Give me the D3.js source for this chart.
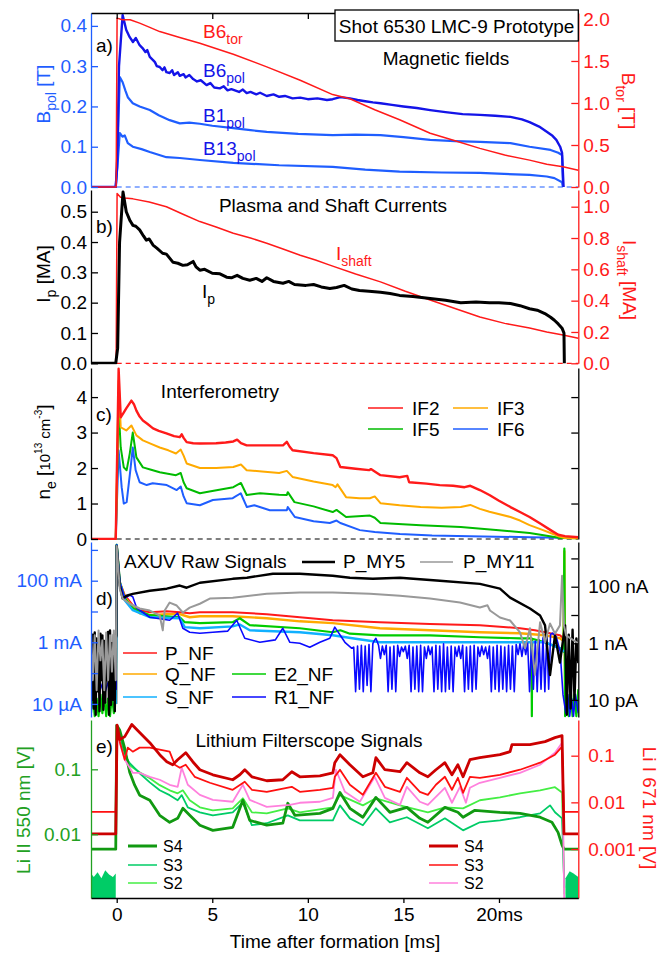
<!DOCTYPE html>
<html><head><meta charset="utf-8">
<script src="https://cdn.jsdelivr.net/npm/d3@7"></script>
<style>
html,body{margin:0;padding:0;background:#fff;}
svg{display:block;font-family:"Liberation Sans",Arial,Helvetica,sans-serif;font-size:19px;}
</style></head><body>
<svg id="c" width="671" height="954"></svg>
<script>
// ---------------- DATA ----------------
const xTicks = [0, 5, 10, 15, 20];
const xTickLabels = ["0", "5", "10", "15", "20ms"];

// Panel a: magnetic fields [T]
const bTor = [[-1.345,0],[-0.03,0],[0.02,2.01],[0.3,1.99],[0.7,1.99],[1.2,1.95],[1.73,1.9],[2.25,1.85],[3.3,1.78],[4.35,1.71],[6.1,1.58],[7.85,1.43],[9.6,1.27],[11.3,1.1],[12.2,1.05],[13.5,0.92],[14.8,0.8],[16.4,0.64],[17.7,0.55],[19.0,0.46],[20.3,0.38],[21.6,0.32],[22.5,0.27],[23.35,0.24],[24.15,0.2]];
const bPol6 = [[-1.345,0],[-0.05,0],[0.02,0.05],[0.12,0.3],[0.31,0.427],[0.5,0.39],[0.68,0.372],[0.85,0.36],[1.0,0.37],[1.2,0.352],[1.35,0.345],[1.5,0.335],[1.6,0.34],[1.73,0.323],[1.9,0.315],[2.0,0.31],[2.1,0.3],[2.25,0.298],[2.4,0.29],[2.5,0.297],[2.6,0.285],[2.77,0.283],[2.9,0.29],[3.0,0.278],[3.2,0.285],[3.3,0.276],[3.5,0.28],[3.6,0.272],[3.8,0.278],[4.0,0.268],[4.2,0.262],[4.4,0.265],[4.7,0.253],[4.9,0.258],[5.1,0.247],[5.4,0.245],[5.6,0.25],[5.8,0.24],[6.0,0.243],[6.4,0.236],[6.6,0.242],[6.8,0.233],[7.0,0.236],[7.3,0.23],[7.5,0.234],[7.85,0.226],[8.2,0.23],[8.5,0.224],[8.8,0.226],[9.2,0.22],[9.6,0.222],[10.0,0.218],[10.5,0.22],[11.0,0.216],[11.3,0.218],[11.7,0.223],[12.2,0.22],[12.6,0.216],[13.0,0.213],[13.4,0.21],[13.8,0.208],[14.4,0.204],[15.0,0.2],[15.7,0.196],[16.4,0.191],[17.2,0.186],[18.1,0.181],[19.0,0.179],[19.8,0.177],[20.6,0.174],[21.2,0.168],[21.6,0.161],[22.1,0.15],[22.5,0.137],[22.8,0.127],[23.0,0.117],[23.2,0.1],[23.3,0.085],[23.35,0.03],[23.38,0]];
const bPol1 = [[-1.345,0],[-0.05,0],[0.05,0.1],[0.16,0.273],[0.31,0.26],[0.45,0.24],[0.58,0.223],[0.84,0.208],[1.2,0.2],[1.73,0.191],[2.2,0.178],[2.77,0.166],[3.3,0.158],[3.8,0.16],[4.35,0.157],[5.0,0.152],[6.1,0.146],[7.0,0.141],[7.85,0.137],[9.5,0.132],[11.3,0.129],[12.5,0.13],[13.8,0.129],[15.0,0.124],[16.4,0.117],[17.7,0.114],[19.0,0.112],[20.6,0.109],[21.6,0.1],[22.7,0.092],[23.1,0.085],[23.3,0.079],[23.35,0]];
const bPol13 = [[-1.345,0],[-0.05,0],[0.05,0.06],[0.16,0.134],[0.3,0.125],[0.42,0.128],[0.58,0.109],[0.84,0.1],[1.3,0.094],[1.73,0.087],[2.6,0.074],[3.3,0.072],[4.35,0.067],[6.1,0.06],[8.5,0.054],[11.3,0.05],[13.0,0.043],[14.8,0.038],[17.0,0.036],[19.0,0.035],[21.6,0.03],[22.5,0.026],[22.9,0.022],[23.3,0.012],[23.35,0]];

// Panel b: currents [MA]
const ip = [[-1.345,0],[-0.05,0],[0.05,0.05],[0.15,0.4],[0.33,0.565],[0.5,0.5],[0.7,0.47],[0.85,0.455],[1.0,0.452],[1.2,0.44],[1.4,0.42],[1.55,0.406],[1.7,0.41],[1.9,0.39],[2.1,0.38],[2.4,0.363],[2.6,0.36],[2.95,0.333],[3.2,0.33],[3.46,0.323],[3.7,0.325],[4.0,0.336],[4.15,0.318],[4.35,0.307],[4.6,0.31],[5.0,0.297],[5.4,0.295],[5.75,0.284],[6.0,0.282],[6.3,0.29],[6.6,0.28],[6.96,0.274],[7.3,0.28],[7.6,0.27],[7.85,0.282],[8.2,0.27],[8.7,0.264],[9.0,0.27],[9.3,0.26],[9.9,0.257],[10.3,0.26],[10.7,0.252],[11.15,0.247],[11.5,0.25],[11.9,0.257],[12.3,0.245],[12.7,0.24],[13.2,0.238],[13.8,0.234],[14.3,0.23],[14.8,0.224],[15.5,0.22],[16.4,0.214],[17.2,0.208],[18.0,0.2],[18.8,0.202],[19.5,0.2],[20.0,0.2],[20.6,0.197],[21.1,0.19],[21.6,0.18],[22.0,0.175],[22.4,0.164],[22.7,0.152],[22.9,0.142],[23.1,0.13],[23.3,0.116],[23.4,0.1],[23.42,0]];
const iShaft = [[-1.345,0],[-0.03,0],[0.02,1.085],[0.2,1.06],[0.42,1.055],[0.85,1.05],[1.7,1.03],[2.6,1.0],[3.5,0.95],[4.35,0.905],[5.2,0.87],[6.1,0.83],[7.0,0.8],[7.85,0.767],[8.7,0.73],[9.6,0.69],[10.4,0.66],[11.15,0.627],[12.5,0.57],[13.8,0.52],[15.1,0.46],[16.4,0.404],[17.7,0.35],[19.0,0.296],[20.3,0.255],[21.6,0.225],[22.5,0.2],[23.35,0.18],[24.15,0.16]];

// Panel c: interferometry [1e13 cm^-3]
const if2 = [[-1.345,0],[-0.05,0],[0.1,4.8],[0.21,3.43],[0.35,3.55],[0.5,3.68],[0.77,3.9],[0.9,3.8],[1.03,3.62],[1.2,3.45],[1.37,3.34],[1.6,3.25],[1.9,3.12],[2.2,3.05],[2.6,2.98],[3.0,2.9],[3.3,2.87],[3.4,2.95],[3.5,2.85],[3.66,2.73],[4.0,2.7],[4.35,2.69],[5.2,2.7],[5.7,2.72],[6.1,2.75],[6.3,2.8],[6.5,2.7],[6.8,2.64],[7.85,2.64],[8.7,2.64],[8.9,2.74],[9.05,2.6],[9.2,2.5],[10.3,2.42],[11.3,2.36],[11.5,2.28],[11.7,2.03],[12.5,1.98],[13.2,1.94],[13.3,1.97],[13.8,1.8],[14.8,1.74],[15.2,1.78],[15.3,1.6],[16.2,1.56],[16.9,1.52],[17.6,1.5],[18.2,1.46],[18.5,1.5],[19.0,1.38],[19.5,1.24],[20.0,1.08],[20.6,0.9],[21.1,0.76],[21.6,0.62],[22.2,0.42],[22.7,0.25],[23.1,0.12],[23.45,0.08],[24.15,0.05]];
const if3 = [[-1.345,0],[-0.05,0],[0.1,4.47],[0.21,3.15],[0.5,3.06],[0.77,3.2],[1.03,2.92],[1.37,2.78],[1.8,2.68],[2.25,2.58],[2.7,2.5],[3.1,2.41],[3.35,2.52],[3.5,2.35],[3.66,2.13],[4.35,2.0],[5.2,2.0],[6.1,2.03],[6.5,2.1],[6.8,1.94],[7.6,1.9],[8.5,1.86],[8.9,1.92],[9.2,1.75],[10.3,1.62],[11.3,1.52],[11.45,1.46],[11.55,1.54],[12.0,1.18],[12.7,1.15],[13.25,1.15],[13.5,1.2],[13.8,1.01],[14.8,0.95],[15.9,0.9],[17.0,0.88],[18.0,0.9],[18.5,0.96],[19.0,0.85],[19.5,0.77],[20.6,0.62],[21.1,0.52],[21.6,0.39],[22.2,0.27],[22.7,0.17],[23.1,0.08],[23.46,0.03],[24.15,0.02]];
const if5 = [[-1.345,0],[-0.05,0],[0.1,3.7],[0.21,2.58],[0.37,2.02],[0.52,1.94],[0.68,2.4],[0.84,3.0],[0.95,2.6],[1.03,2.3],[1.37,2.02],[1.8,1.95],[2.25,1.88],[3.1,1.8],[3.35,1.86],[3.5,1.6],[3.66,1.43],[4.35,1.29],[5.0,1.35],[6.1,1.46],[6.5,1.58],[6.8,1.24],[7.5,1.29],[8.5,1.25],[8.9,1.24],[8.95,1.32],[9.3,1.04],[10.3,0.92],[11.3,0.76],[11.5,0.82],[12.0,0.62],[13.25,0.66],[13.5,0.6],[13.8,0.45],[15.9,0.39],[18.0,0.34],[20.0,0.25],[21.6,0.17],[22.5,0.09],[23.2,0.03],[24.15,0.02]];
const if6 = [[-1.345,0],[-0.05,0],[0.1,2.5],[0.26,1.46],[0.37,1.0],[0.52,1.04],[0.73,2.02],[0.84,2.58],[0.99,1.94],[1.2,1.6],[1.57,1.52],[1.88,1.57],[2.62,1.52],[3.14,1.38],[3.35,1.48],[3.5,1.2],[3.66,1.01],[4.35,0.95],[5.03,1.1],[6.07,1.15],[6.49,1.29],[6.81,0.9],[7.2,0.95],[8.01,0.81],[8.9,0.81],[8.95,0.9],[9.32,0.62],[10.3,0.5],[11.15,0.45],[11.5,0.52],[11.7,0.45],[12.72,0.25],[13.5,0.2],[14.82,0.14],[16.5,0.1],[18.48,0.08],[21.6,0.05],[24.15,0.03]];

// Panel d: AXUV raw signals, NF in mA (left), MY in nA (right)
const pNF = [[-0.03,0.01],[0.0,1445],[0.16,90],[0.42,34],[0.84,16],[1.2,11],[1.73,9.5],[2.62,10.2],[3.3,9.5],[3.82,8.8],[4.35,9.5],[6.07,9.5],[7.85,8.2],[9.58,6.5],[11.3,5.2],[13.77,4.5],[16.39,3.9],[19.0,3.6],[21.1,2.86],[21.88,2.46],[22.41,2.12],[23.19,1.69],[23.4,1.3]];
const qNF = [[-0.03,0.01],[0.0,1445],[0.16,90],[0.42,29],[0.84,13.8],[1.2,8.8],[1.73,7.6],[2.62,8.2],[3.3,8.2],[3.82,6.5],[4.35,7.0],[6.07,7.0],[7.85,6.05],[9.58,4.8],[11.3,4.2],[13.77,2.86],[16.39,2.46],[19.0,2.12],[21.1,1.96],[22.41,1.69],[23.19,1.35],[23.38,1.1],[23.42,900],[23.46,0.01]];
const e2NF = [[-1.345,0.005],[-1.25,0.02],[-1.15,0.004],[-1.05,0.015],[-0.95,0.004],[-0.85,0.02],[-0.75,0.005],[-0.65,0.02],[-0.55,0.004],[-0.45,0.015],[-0.35,0.004],[-0.25,0.02],[-0.15,0.005],[-0.05,0.015],[0.0,1445],[0.16,90],[0.42,27],[0.84,12.8],[1.73,7.6],[3.3,6.5],[3.56,4.5],[4.35,4.2],[6.07,4.5],[6.44,6.05],[6.96,3.6],[9.58,2.86],[11.3,2.12],[11.7,2.46],[12.2,1.9],[13.77,1.69],[16.39,1.69],[19.0,1.46],[21.1,1.35],[21.7,1.35],[21.72,0.004],[21.74,1.3],[22.41,1.0],[23.19,0.64],[23.38,0.5],[23.42,1100],[23.46,0.004],[23.55,0.02],[23.65,0.004],[23.75,0.03],[23.85,0.004],[23.95,0.02],[24.05,0.004],[24.15,0.03]];
const sNF = [[-0.03,0.01],[0.0,1445],[0.16,90],[0.42,23],[0.84,11],[1.73,6.5],[3.3,6.05],[3.56,3.1],[4.35,2.86],[6.07,3.3],[6.44,3.8],[6.96,2.46],[9.58,2.12],[11.3,1.69],[12.5,1.3],[13.77,1.0],[16.39,1.0],[19.0,1.0],[22.41,1.0],[23.19,0.64],[23.4,0.5]];
const r1NF = [[-1.345,0.04],[-1.2,0.025],[-1.05,0.05],[-0.9,0.025],[-0.75,0.045],[-0.6,0.025],[-0.45,0.05],[-0.3,0.025],[-0.15,0.04],[-0.03,0.03],[0.0,1445],[0.16,90],[0.42,27],[0.68,34],[0.84,30],[1.05,12.8],[1.73,6.5],[2.77,5.2],[3.19,8.8],[3.46,2.86],[3.82,2.12],[4.35,1.96],[5.03,2.12],[5.8,2.3],[6.28,5.2],[6.7,1.35],[7.49,1.0],[8.3,1.2],[8.69,2.86],[9.06,1.0],[9.58,0.93],[10.1,0.69],[10.63,1.0],[11.15,1.35],[11.41,3.1],[11.94,1.0],[12.3,0.64],
[12.4,0.7],[12.5,0.025],[12.6,0.75],[12.7,0.03],[12.8,0.8],[12.9,0.025],[13.0,0.75],[13.1,0.04],[13.2,0.85],[13.3,0.025],[13.4,0.9],[13.5,1.2],[13.56,1.35],[13.7,0.8],[13.8,0.3],[13.9,0.75],[14.0,0.4],[14.1,0.8],[14.2,0.025],[14.3,0.7],[14.4,0.03],[14.5,0.75],[14.6,0.025],[14.7,0.8],[14.8,0.35],[14.9,0.7],[15.0,0.5],[15.1,0.75],[15.2,0.3],[15.3,0.8],[15.4,0.025],[15.5,0.7],[15.6,0.03],[15.7,0.75],[15.8,0.025],[15.9,0.8],[16.0,0.025],[16.1,0.7],[16.2,0.3],[16.3,0.75],[16.4,0.4],[16.5,0.7],[16.6,0.025],[16.7,0.8],[16.8,0.03],[16.9,0.75],[17.0,0.025],[17.1,0.9],[17.2,0.025],[17.3,0.7],[17.4,0.03],[17.5,0.75],[17.6,0.025],[17.7,0.7],[17.8,0.35],[17.9,0.75],[18.0,0.3],[18.1,0.8],[18.2,0.025],[18.3,0.7],[18.4,0.03],[18.5,0.75],[18.6,0.025],[18.7,0.8],[18.8,0.03],[18.9,0.7],[19.0,0.35],[19.1,0.75],[19.2,0.4],[19.3,0.7],[19.4,0.3],[19.5,0.75],[19.6,0.025],[19.7,0.7],[19.8,0.03],[19.9,0.8],[20.0,0.025],[20.1,0.75],[20.2,0.03],[20.3,0.7],[20.4,0.025],[20.5,0.8],[20.6,0.03],[20.7,0.75],[20.8,0.025],[20.9,0.85],[21.0,0.4],[21.1,0.9],[21.2,0.35],[21.3,0.9],[21.4,0.4],[21.5,0.95],[21.6,0.025],[21.7,1.0],[21.8,0.03],[21.9,1.1],[22.0,0.025],[22.1,1.2],[22.2,0.03],[22.3,1.4],[22.4,0.025],[22.5,1.6],[22.6,0.03],[22.7,1.8],[22.8,2.0],
[23.0,1.5],[23.2,0.5],[23.35,0.02],[23.5,0.005],[23.6,0.02],[23.7,0.004],[23.8,0.015],[23.9,0.004],[24.0,0.02],[24.15,0.005]];
const pMY5 = [[-1.345,1.27],[-1.3,0.01],[-1.25,2.0],[-1.2,0.005],[-1.15,2.43],[-1.1,0.003],[-1.05,1.5],[-1.0,0.02],[-0.95,0.85],[-0.9,0.004],[-0.85,2.2],[-0.8,0.05],[-0.75,1.91],[-0.7,0.0045],[-0.65,1.2],[-0.6,0.008],[-0.55,0.57],[-0.5,0.05],[-0.45,2.5],[-0.4,0.003],[-0.35,2.86],[-0.3,0.0067],[-0.25,1.0],[-0.2,0.01],[-0.15,2.0],[-0.1,0.004],[-0.05,1.5],[-0.02,1.9],[0.0,2750],[0.16,110],[0.31,38],[0.52,48],[0.84,56],[1.73,72],[2.62,85],[3.3,110],[3.66,92],[4.35,138],[6.07,190],[6.81,208],[8.17,288],[9.58,288],[11.3,245],[12.2,208],[13.4,190],[14.82,208],[16.91,162],[19.0,126],[20.05,85],[20.58,41],[21.62,17],[22.15,9.6],[22.41,4.3],[22.51,0.85],[22.67,0.076],[22.93,1.9],[23.19,0.21],[23.46,4.3],[23.55,0.003],[23.65,2.0],[23.75,0.005],[23.85,3.0],[23.95,0.01],[24.05,1.5],[24.15,0.2]];
const pMY11 = [[-1.345,2.43],[-1.25,0.05],[-1.15,1.91],[-1.05,0.022],[-0.95,2.86],[-0.85,0.25],[-0.75,1.27],[-0.65,0.022],[-0.55,2.43],[-0.45,0.05],[-0.35,1.91],[-0.25,0.1],[-0.15,2.86],[-0.05,0.05],[0.0,2750],[0.16,85],[0.31,38],[0.68,25],[1.2,17],[1.73,14.4],[2.25,9.6],[2.41,2.86],[2.51,14.4],[2.77,27.5],[3.14,21.6],[3.46,12.3],[3.82,18.3],[4.35,25],[4.87,38],[6.07,41],[7.85,56],[9.58,62],[11.3,62],[13.25,56],[14.82,48],[16.39,38],[17.96,27.5],[19.0,18.3],[19.4,22],[19.53,14.4],[20.05,8.2],[20.58,6.4],[21.1,2.43],[21.36,0.67],[21.62,3.4],[21.88,0.076],[22.15,5.5],[22.41,1.08],[22.67,5.0],[22.93,2.2],[23.19,4.3],[23.3,245],[23.4,4.3],[23.51,1.91],[24.15,1.0]];

// Panel e: Li filterscopes [V]; green = Li II 550 nm (left), red = Li I 671 nm (right)
const g4 = [[-1.345,0.0059],[-0.05,0.0059],[0.0,0.475],[0.16,0.398],[0.42,0.21],[0.68,0.09],[0.94,0.057],[1.2,0.04],[1.73,0.0334],[2.25,0.0196],[2.77,0.0153],[3.19,0.0176],[3.46,0.0251],[3.82,0.0196],[4.35,0.0138],[5.03,0.0115],[6.07,0.0128],[6.6,0.0334],[6.96,0.0164],[7.85,0.0138],[8.69,0.0148],[8.95,0.03],[9.32,0.0196],[10.63,0.021],[11.31,0.0251],[11.68,0.044],[12.2,0.0251],[12.88,0.0183],[13.56,0.037],[14.29,0.0218],[15.18,0.026],[15.86,0.0176],[16.28,0.0153],[17.17,0.026],[17.85,0.0218],[18.12,0.0183],[18.74,0.0234],[20.05,0.0218],[21.1,0.021],[22.15,0.0183],[22.77,0.0153],[23.09,0.0107],[23.3,0.0068],[23.4,0.0059],[24.15,0.0059]];
const g3 = [[0.0,0.475],[0.16,0.3],[0.42,0.164],[0.68,0.124],[1.2,0.087],[1.73,0.063],[2.25,0.0475],[2.77,0.04],[3.19,0.0334],[3.4,0.04],[3.72,0.026],[4.35,0.0218],[5.03,0.0196],[6.07,0.0218],[6.6,0.031],[7.07,0.0138],[7.85,0.0148],[8.95,0.0196],[9.58,0.0164],[11.31,0.0164],[11.68,0.0279],[12.2,0.0176],[12.88,0.0138],[13.56,0.0251],[14.29,0.0153],[15.18,0.0183],[16.28,0.0124],[17.17,0.0176],[18.12,0.0115],[19.0,0.0153],[20.05,0.0164],[21.1,0.0183],[22.15,0.021],[22.67,0.0279],[22.93,0.0218],[23.3,0.0176],[23.42,0.0015]];
const g3Pre = [[-1.345,0.0025],[-1.2,0.0022],[-1.0,0.0026],[-0.8,0.0021],[-0.6,0.0028],[-0.4,0.0024],[-0.2,0.0022],[-0.05,0.0025]];
const g3Post = [[23.48,0.0021],[23.7,0.0027],[23.9,0.0025],[24.15,0.0022]];
const g2 = [[0.0,0.475],[0.16,0.333],[0.42,0.183],[0.68,0.115],[0.84,0.107],[1.2,0.09],[1.73,0.073],[2.25,0.057],[2.77,0.0475],[3.19,0.0427],[3.46,0.0475],[3.82,0.0334],[4.35,0.026],[5.03,0.0234],[6.07,0.0251],[6.6,0.0358],[7.07,0.0218],[7.85,0.021],[8.95,0.0251],[9.58,0.0218],[11.31,0.026],[11.68,0.04],[12.88,0.0279],[13.56,0.0358],[14.82,0.0279],[16.28,0.0218],[17.17,0.026],[18.12,0.0251],[19.0,0.0334],[20.05,0.037],[21.1,0.0427],[22.15,0.0475],[22.93,0.053],[23.3,0.044],[23.42,0.0012]];
const r4 = [[-1.345,0.0021],[-0.05,0.0021],[0.02,0.45],[0.16,0.221],[0.42,0.256],[0.79,0.465],[1.2,0.313],[1.73,0.19],[2.25,0.105],[2.62,0.0743],[2.93,0.064],[3.19,0.082],[3.61,0.116],[3.98,0.0743],[4.35,0.05],[5.03,0.039],[6.07,0.0305],[6.44,0.039],[6.7,0.05],[7.07,0.0353],[7.85,0.029],[8.69,0.0305],[9.16,0.0453],[9.58,0.0353],[10.63,0.0371],[11.31,0.043],[11.41,0.0708],[11.68,0.105],[12.2,0.064],[12.88,0.0353],[13.4,0.043],[13.56,0.0906],[14.03,0.05],[14.82,0.0453],[15.18,0.0708],[15.86,0.043],[16.28,0.0353],[16.7,0.05],[17.17,0.0708],[17.54,0.039],[17.85,0.064],[18.12,0.0353],[18.48,0.082],[19.0,0.0906],[20.05,0.105],[20.58,0.122],[20.68,0.172],[21.62,0.172],[22.41,0.2],[22.93,0.244],[23.3,0.269],[23.4,0.0021],[24.15,0.0021]];
const r3 = [[-1.345,0.00625],[-0.05,0.00625],[0.02,0.4],[0.16,0.2],[0.42,0.082],[0.58,0.149],[0.84,0.122],[1.2,0.149],[1.73,0.149],[2.25,0.135],[2.77,0.122],[3.04,0.064],[3.3,0.0552],[3.61,0.064],[4.08,0.0353],[4.87,0.0263],[6.07,0.0186],[6.7,0.0276],[7.07,0.0186],[7.85,0.0168],[9.16,0.0215],[9.58,0.0168],[10.63,0.0186],[11.31,0.0205],[11.41,0.0353],[11.68,0.05],[12.2,0.0238],[12.88,0.0145],[13.56,0.043],[14.03,0.0215],[14.82,0.0168],[15.18,0.0336],[15.86,0.0168],[16.28,0.0145],[16.7,0.0238],[17.17,0.0353],[17.54,0.0186],[17.85,0.0336],[18.12,0.016],[18.48,0.0353],[19.0,0.0336],[20.05,0.039],[21.1,0.05],[22.15,0.0708],[22.93,0.105],[23.3,0.156],[23.4,0.00625],[24.15,0.00625]];
const r2 = [[0.0,0.465],[0.16,0.19],[0.42,0.082],[0.68,0.0552],[0.84,0.043],[1.2,0.043],[1.73,0.0353],[2.25,0.0305],[2.77,0.0238],[3.19,0.0215],[3.4,0.0552],[3.72,0.0238],[4.35,0.0145],[5.03,0.0113],[6.07,0.0103],[6.6,0.0238],[6.96,0.0113],[7.85,0.008],[9.06,0.0088],[9.58,0.0098],[10.63,0.0103],[11.31,0.0125],[11.47,0.05],[11.94,0.0168],[12.72,0.0103],[13.5,0.0353],[14.03,0.0125],[14.82,0.0088],[15.18,0.0215],[15.86,0.0103],[16.28,0.0088],[17.17,0.0205],[17.54,0.0098],[17.96,0.0215],[18.27,0.0098],[18.48,0.0205],[19.0,0.0263],[20.05,0.0336],[21.1,0.043],[22.15,0.064],[22.93,0.116],[23.3,0.19],[23.42,0.00005]];

// tick values
const aLeftTicks = [0, 0.1, 0.2, 0.3, 0.4];
const aRightTicks = [0, 0.5, 1.0, 1.5, 2.0];
const bLeftTicks = [0, 0.1, 0.2, 0.3, 0.4, 0.5];
const bRightTicks = [0, 0.2, 0.4, 0.6, 0.8, 1.0];
const cTicks = [0, 1, 2, 3, 4];
const dTicks = [1000, 100, 10, 1, 0.1, 0.01];
const dLeftLabels = {"100": "100 mA", "1": "1 mA", "0.01": "10 µA"};
const dRightLabels = {"100": "100 nA", "1": "1 nA", "0.01": "10 pA"};
const eLeftTicks = [0.1, 0.01];
const eRightTicks = [0.1, 0.01, 0.001];

// ---------------- DRAW ----------------
const svg = d3.select('#c');
const L = 91, R = 578.3;
const P = {a:[13,187], b:[190,363.3], c:[368,539], d:[542,717], e:[720,898]};
const x = d3.scaleLinear().domain([-1.345, 24.15]).range([L, R]);
const yaL = d3.scaleLinear().domain([0, 0.432]).range([187, 13]);
const yaR = d3.scaleLinear().domain([0, 2.071]).range([187, 13]);
const ybL = d3.scaleLinear().domain([0, 0.5716]).range([363.3, 190]);
const ybR = d3.scaleLinear().domain([0, 1.1066]).range([363.3, 190]);
const yc = d3.scaleLinear().domain([0, 4.82]).range([539, 368]);
const ydL = d3.scaleLog().domain([0.00376, 1804]).range([717, 542]);
const ydR = d3.scaleLog().domain([0.00249, 3800]).range([717, 542]);
const yeL = d3.scaleLog().domain([0.001047, 0.5735]).range([898, 720]);
const yeR = d3.scaleLog().domain([0.0000891, 0.582]).range([898, 720]);

const BLUE = '#1f5eff', BLUE_D = '#1414e8', RED = '#ff1a1a', ORANGE = '#ffaa00', GREEN = '#00bb00';
const defs = svg.append('defs');
Object.entries(P).forEach(([k, [t, b]]) => {
  defs.append('clipPath').attr('id', 'clip-' + k).append('rect')
    .attr('x', L).attr('y', t - 1).attr('width', R - L).attr('height', b - t + 2);
});

function ln(panel, data, y, color, w, dash) {
  const p = svg.append('g').attr('clip-path', `url(#clip-${panel})`).append('path')
    .datum(data)
    .attr('d', d3.line().x(d => x(d[0])).y(d => y(d[1])))
    .attr('fill', 'none').attr('stroke', color).attr('stroke-width', w)
    .attr('stroke-linejoin', 'round');
  if (dash) p.attr('stroke-dasharray', dash);
}
function area(panel, data, y, base, color) {
  svg.append('g').attr('clip-path', `url(#clip-${panel})`).append('path')
    .datum(data)
    .attr('d', d3.area().x(d => x(d[0])).y0(base).y1(d => y(d[1])))
    .attr('fill', color);
}
function zeroLine(y, color) {
  svg.append('line').attr('x1', x(0)).attr('x2', R).attr('y1', y(0)).attr('y2', y(0))
    .attr('stroke', color).attr('stroke-width', 1.2).attr('stroke-dasharray', '5,4');
}
function yAxis(scale, side, ticks, fmt, color, pad) {
  const ax = (side === 'left' ? d3.axisLeft(scale) : d3.axisRight(scale))
    .tickValues(ticks).tickFormat(fmt).tickSize(-7).tickSizeOuter(0).tickPadding(pad);
  const g = svg.append('g').attr('transform', `translate(${side === 'left' ? L : R},0)`).call(ax);
  g.attr('font-size', null).attr('font-family', null);
  g.selectAll('path,line').attr('stroke', color).attr('stroke-width', 1.3);
  g.selectAll('text').attr('fill', color);
  return g;
}
function rich(x0, y0, parts, o = {}) {
  const size = o.size || 19;
  const t = svg.append('text')
    .attr('transform', `translate(${x0},${y0}) rotate(${o.rotate || 0})`)
    .attr('text-anchor', o.anchor || 'start').attr('fill', o.color || '#000')
    .style('font-size', size + 'px');
  let shift = 0;
  parts.forEach(p => {
    const s = t.append('tspan').text(p.t);
    const target = p.sub ? size * 0.32 : p.sup ? -size * 0.42 : 0;
    if (target - shift !== 0) s.attr('dy', target - shift);
    shift = target;
    const fs = p.size || ((p.sub || p.sup) ? Math.round(size * 0.72) : size);
    s.style('font-size', fs + 'px');
  });
  return t;
}
const fmt1 = d3.format('.1f');

// ---- Panel a
zeroLine(yaL, BLUE);
ln('a', bPol13, yaL, BLUE, 2.2);
ln('a', bPol1, yaL, BLUE, 2.2);
ln('a', bPol6, yaL, BLUE_D, 2.4);
ln('a', bTor, yaR, RED, 1.5);
yAxis(yaL, 'left', aLeftTicks, fmt1, BLUE, 4);
yAxis(yaR, 'right', aRightTicks, fmt1, RED, 5);
svg.append('g').attr('transform', `translate(0,${P.a[0]})`)
  .call(d3.axisTop(x).tickValues(xTicks).tickFormat('').tickSize(-6).tickSizeOuter(0))
  .call(g => g.selectAll('path,line').attr('stroke', '#000').attr('stroke-width', 1.3));

// ---- Panel b
zeroLine(ybL, RED);
ln('b', iShaft, ybR, RED, 1.5);
ln('b', ip, ybL, '#000', 3);
yAxis(ybL, 'left', bLeftTicks, fmt1, '#000', 4);
yAxis(ybR, 'right', bRightTicks, fmt1, RED, 5);

// ---- Panel c
zeroLine(yc, '#000');
ln('c', if6, yc, BLUE, 2);
ln('c', if5, yc, GREEN, 2);
ln('c', if3, yc, ORANGE, 2);
ln('c', if2, yc, RED, 2.4);
yAxis(yc, 'left', cTicks, d3.format('d'), '#000', 4);
yAxis(yc, 'right', cTicks.slice(1), () => '', '#000', 4);

// ---- Panel d
ln('d', pNF, ydL, RED, 2);
ln('d', qNF, ydL, ORANGE, 2.4);
ln('d', e2NF, ydL, '#00cc00', 2.2);
ln('d', sNF, ydL, '#10b0ff', 2.4);
ln('d', r1NF, ydL, '#0a0aff', 1.6);
ln('d', pMY5, ydR, '#000', 2.4);
ln('d', pMY11, ydR, '#999', 2);
yAxis(ydL, 'left', dTicks, d => dLeftLabels[String(d)] || '', BLUE, 9);
yAxis(ydR, 'right', dTicks, d => dRightLabels[String(d)] || '', '#000', 10);

// ---- Panel e
area('e', g3Pre, yeL, P.e[1], '#00cc66');
area('e', g3Post, yeL, P.e[1], '#00cc66');
ln('e', g2, yeL, '#44ee44', 1.8);
ln('e', g3, yeL, '#00cc66', 1.8);
ln('e', g4, yeL, '#119911', 2.8);
ln('e', r2, yeR, '#ff80dd', 1.8);
ln('e', r3, yeR, '#ff1010', 1.8);
ln('e', r4, yeR, '#cc0000', 2.8);
yAxis(yeL, 'left', eLeftTicks, d => String(d), '#22a022', 10);
yAxis(yeR, 'right', eRightTicks, d => String(d), RED, 10);
const xa = svg.append('g').attr('transform', `translate(0,${P.e[1]})`)
  .call(d3.axisBottom(x).tickValues(xTicks).tickFormat((d, i) => xTickLabels[i]).tickSize(5).tickSizeOuter(0).tickPadding(5));
xa.attr('font-size', null).attr('font-family', null);
xa.selectAll('path,line').attr('stroke', '#000').attr('stroke-width', 1.3);
xa.selectAll('text').attr('fill', '#000');

// ---- Title box
svg.append('rect').attr('x', 335).attr('y', 10).attr('width', 243.3).attr('height', 31)
  .attr('fill', '#fff').attr('stroke', '#000').attr('stroke-width', 1.3);
svg.append('text').attr('x', 456.6).attr('y', 33).attr('text-anchor', 'middle').text('Shot 6530 LMC-9 Prototype');

// ---- Panel texts
const T = (x0, y0, s, o = {}) => svg.append('text').attr('x', x0).attr('y', y0)
  .attr('text-anchor', o.anchor || 'start').attr('fill', o.color || '#000')
  .style('font-size', (o.size || 19) + 'px').text(s);
T(96, 52, 'a)'); T(96, 233, 'b)'); T(96, 421, 'c)'); T(96, 605, 'd)'); T(96, 753, 'e)');
T(446, 65, 'Magnetic fields', {anchor: 'middle'});
T(333, 212, 'Plasma and Shaft Currents', {anchor: 'middle'});
T(220, 398, 'Interferometry', {anchor: 'middle'});
T(124, 568, 'AXUV Raw Signals');
T(309, 747, 'Lithium Filterscope Signals', {anchor: 'middle'});

rich(203, 38, [{t: 'B6'}, {t: 'tor', sub: true}], {color: RED});
rich(203, 77, [{t: 'B6'}, {t: 'pol', sub: true}], {color: BLUE_D});
rich(203, 122, [{t: 'B1'}, {t: 'pol', sub: true}], {color: BLUE_D});
rich(203, 155, [{t: 'B13'}, {t: 'pol', sub: true}], {color: BLUE_D});
rich(336, 260, [{t: 'I'}, {t: 'shaft', sub: true}], {color: RED});
rich(202, 298, [{t: 'I'}, {t: 'p', sub: true}]);

// axis titles
rich(50, 94, [{t: 'B'}, {t: 'pol', sub: true}, {t: '  [T]'}], {rotate: -90, anchor: 'middle', color: BLUE});
rich(622, 101, [{t: 'B'}, {t: 'tor', sub: true}, {t: '  [T]'}], {rotate: 90, anchor: 'middle', color: RED});
rich(50, 274, [{t: 'I'}, {t: 'p', sub: true}, {t: ' [MA]'}], {rotate: -90, anchor: 'middle'});
rich(623, 280, [{t: 'I'}, {t: 'shaft', sub: true}, {t: ' [MA]'}], {rotate: 90, anchor: 'middle', color: RED});
rich(50, 452, [{t: 'n'}, {t: 'e', sub: true}, {t: ' ['}, {t: '10', size: 15}, {t: '13', sup: true, size: 10}, {t: ' cm', size: 15}, {t: '-3', sup: true, size: 10}, {t: ']'}], {rotate: -90, anchor: 'middle'});
rich(30, 810, [{t: 'Li II 550 nm [V]'}], {rotate: -90, anchor: 'middle', color: '#22a022'});
rich(643, 808, [{t: 'Li I 671 nm [V]'}], {rotate: 90, anchor: 'middle', color: RED});
T(335, 948, 'Time after formation [ms]', {anchor: 'middle'});

// ---- Legends
function legLine(x1, x2, y, color, w) {
  svg.append('line').attr('x1', x1).attr('x2', x2).attr('y1', y).attr('y2', y)
    .attr('stroke', color).attr('stroke-width', w);
}
// panel c
[[368, 408, RED, 'IF2'], [453, 408, ORANGE, 'IF3'], [368, 429, GREEN, 'IF5'], [453, 429, BLUE, 'IF6']].forEach(([lx, ly, c, s]) => {
  legLine(lx, lx + 35, ly, c, 1.5); T(lx + 44, ly + 7, s);
});
// panel d
legLine(302, 335, 562, '#000', 2.6); T(343, 568, 'P_MY5');
legLine(420, 453, 562, '#999', 1.5); T(463, 568, 'P_MY11');
[[123, 653, RED, 'P_NF'], [123, 674, ORANGE, 'Q_NF'], [232, 674, '#00cc00', 'E2_NF'], [123, 697, '#10b0ff', 'S_NF'], [232, 697, '#0a0aff', 'R1_NF']].forEach(([lx, ly, c, s]) => {
  legLine(lx, lx + 34, ly, c, 1.5); T(lx + 42, ly + 7, s);
});
// panel e
[[128, 846, '#119911', 'S4', 3], [128, 865, '#00cc66', 'S3', 1.5], [128, 883, '#44ee44', 'S2', 1.5],
 [429, 846, '#cc0000', 'S4', 3], [429, 865, '#ff1010', 'S3', 1.5], [429, 883, '#ff80dd', 'S2', 1.5]].forEach(([lx, ly, c, s, w]) => {
  legLine(lx, lx + 29, ly, c, w); T(lx + 35, ly + 6, s, {size: 16});
});
</script></body></html>
